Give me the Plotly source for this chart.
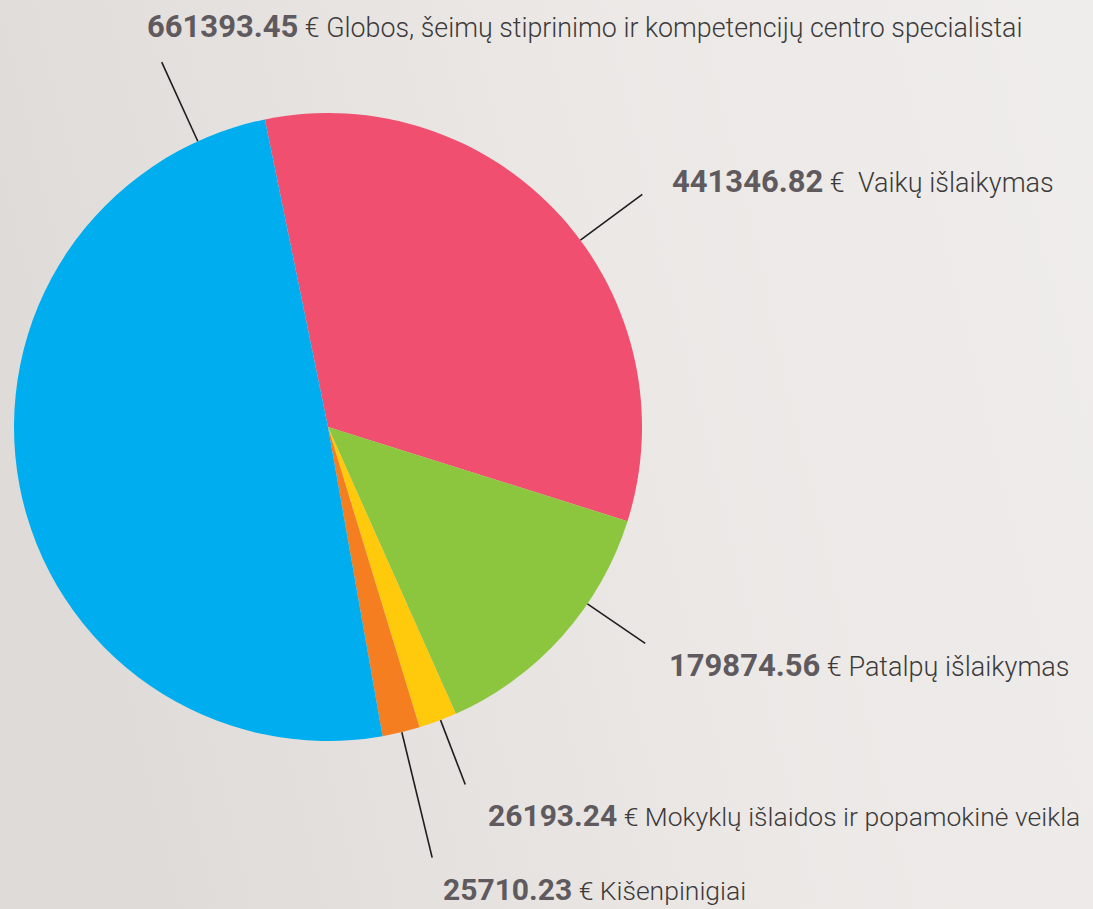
import base64
import math
import plotly.graph_objects as go

# ---- data ----
categories = [
    "Vaikų išlaikymas",
    "Patalpų išlaikymas",
    "Mokyklų išlaidos ir popamokinė veikla",
    "Kišenpinigiai",
    "Globos, šeimų stiprinimo ir kompetencijų centro specialistai",
]
values = [441346.82, 179874.56, 26193.24, 25710.23, 661393.45]
colors = ["#f04f6f", "#8cc63f", "#ffc90c", "#f47e20", "#00adee"]

# ---- layout constants (pixels) ----
W, H = 1093, 909
CX, CY, R = 328, 427, 314
label_pos = [(670, 181), (667, 665), (486, 815), (441, 889), (145, 26)]
label_gap = ["&nbsp;&nbsp;", " ", " ", " ", " "]
leader_angle = [53.5, 124.3, 159.0, 166.4, -24.5]  # degrees clockwise from 12 o'clock
leader_r_out = [391, 384, 383, 443, 401]
num_sizes = [31, 31, 30, 30, 31]
txt_sizes = [27, 27, 26.5, 26.5, 26.8]

start_angle = -11.6

fig = go.Figure()
fig.add_trace(go.Pie(
    labels=categories,
    values=values,
    sort=False,
    direction="clockwise",
    rotation=start_angle,
    marker=dict(colors=colors, line=dict(width=0)),
    textinfo="none",
    hoverinfo="label+value",
    showlegend=False,
    domain=dict(x=[(CX - R) / W, (CX + R) / W], y=[1 - (CY + R) / H, 1 - (CY - R) / H]),
))

def px(x, y):
    return x / W, 1 - y / H

shapes = []
annotations = []
for i, (cat, v) in enumerate(zip(categories, values)):
    a = math.radians(leader_angle[i])
    x0, y0 = CX + R * math.sin(a), CY - R * math.cos(a)
    x1, y1 = CX + leader_r_out[i] * math.sin(a), CY - leader_r_out[i] * math.cos(a)
    p0, p1 = px(x0, y0), px(x1, y1)
    shapes.append(dict(type="line", xref="paper", yref="paper",
                       x0=p0[0], y0=p0[1], x1=p1[0], y1=p1[1],
                       line=dict(color="#1e1e1e", width=1.6)))
    lx, ly = px(*label_pos[i])
    annotations.append(dict(
        xref="paper", yref="paper", x=lx, y=ly, xanchor="left", yanchor="middle",
        showarrow=False,
        text=(f"<span style='color:#5f5a5e;font-size:{num_sizes[i]}px'><b>{v:.2f}</b></span>"
              f" €{label_gap[i]}{cat}"),
        font=dict(family="Roboto", size=txt_sizes[i], color="#3c3a3a", weight=300),
    ))

svg = f"""<svg xmlns='http://www.w3.org/2000/svg' width='{W}' height='{H}'>
<defs><linearGradient id='g' x1='0' y1='0.3' x2='1' y2='0.1'>
<stop offset='0' stop-color='#dfdbd8'/><stop offset='0.55' stop-color='#ebe8e6'/>
<stop offset='1' stop-color='#efedeb'/></linearGradient></defs>
<rect width='{W}' height='{H}' fill='url(#g)'/></svg>"""
src = "data:image/svg+xml;base64," + base64.b64encode(svg.encode()).decode()

fig.update_layout(
    width=W, height=H,
    margin=dict(l=0, r=0, t=0, b=0),
    paper_bgcolor="#e8e5e2",
    plot_bgcolor="rgba(0,0,0,0)",
    shapes=shapes,
    annotations=annotations,
    images=[dict(source=src, xref="paper", yref="paper", x=0, y=1, sizex=1, sizey=1,
                 sizing="stretch", layer="below", xanchor="left", yanchor="top")],
)

fig.write_html("out.html", config={"displayModeBar": False},
               post_script="document.body.style.margin='0';document.body.style.overflow='hidden';")
